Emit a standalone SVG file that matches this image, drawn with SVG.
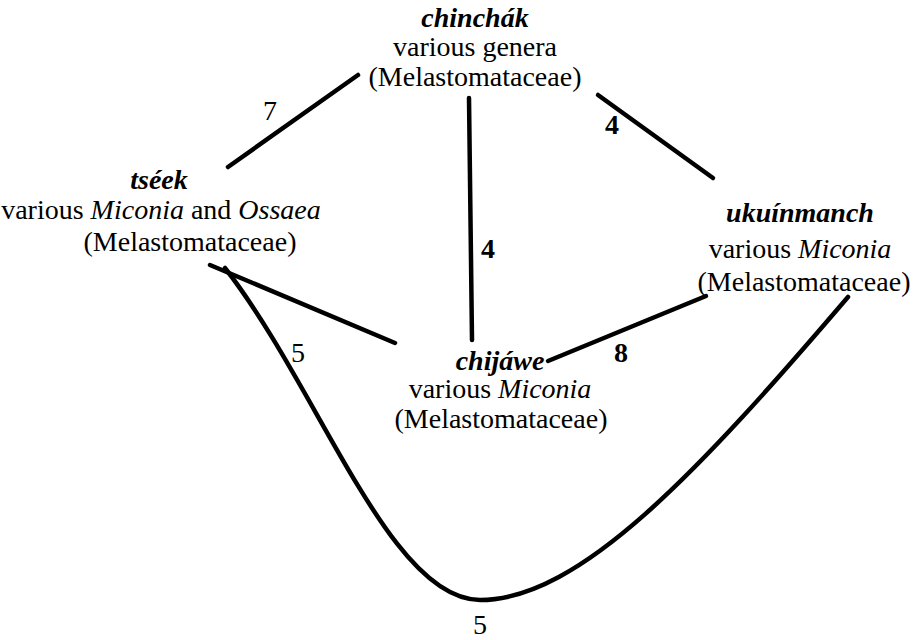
<svg xmlns="http://www.w3.org/2000/svg" width="913" height="640" viewBox="0 0 913 640">
<style>
text{font-family:'Liberation Serif','Times New Roman',serif;font-size:28px;fill:#000;text-anchor:middle}
.n{font-weight:bold;font-style:italic}
.i{font-style:italic}
.b{font-weight:bold}
.e{fill:none;stroke:#000;stroke-width:4.5;stroke-linecap:round}
</style>
<rect width="913" height="640" fill="#fff"/>
<g id="connectors">
<line class="e" x1="228" y1="167" x2="358" y2="75"/>
<line class="e" x1="469" y1="98" x2="472" y2="340"/>
<line class="e" x1="598" y1="95" x2="713" y2="178"/>
<line class="e" x1="210" y1="265" x2="395" y2="343"/>
<line class="e" x1="548" y1="361" x2="706" y2="296"/>
<path class="e" d="M225,268 C320,390 390,600 480,600 C580,600 700,470 848,297"/>
<text x="480" y="634">5</text>
<text x="270" y="120">7</text>
<text class="b" x="488" y="258">4</text>
<text class="b" x="612" y="134">4</text>
<text x="298" y="362">5</text>
<text class="b" x="621" y="362">8</text>
</g>
<g id="chinchak">
<text class="n" x="475" y="27">chinchák</text>
<text x="475" y="56">various genera</text>
<text x="475" y="86">(Melastomataceae)</text>
</g>
<g id="tseek">
<text class="n" x="159" y="189">tséek</text>
<text x="161" y="219">various <tspan class="i">Miconia</tspan> and <tspan class="i">Ossaea</tspan></text>
<text x="190" y="251">(Melastomataceae)</text>
</g>
<g id="ukuinmanch">
<text class="n" x="800" y="222">ukuínmanch</text>
<text x="800" y="258">various <tspan class="i">Miconia</tspan></text>
<text x="804" y="291">(Melastomataceae)</text>
</g>
<g id="chijawe">
<text class="n" x="500" y="370">chijáwe</text>
<text x="500" y="398">various <tspan class="i">Miconia</tspan></text>
<text x="501" y="428">(Melastomataceae)</text>
</g>
</svg>
